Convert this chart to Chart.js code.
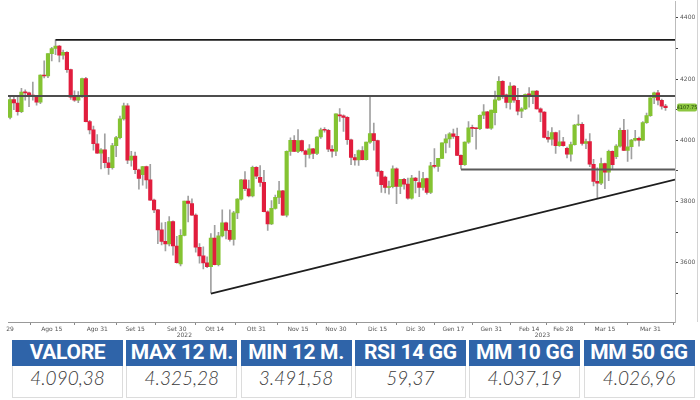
<!DOCTYPE html>
<html>
<head>
<meta charset="utf-8">
<script src="https://cdn.jsdelivr.net/npm/chart.js@4.4.1/dist/chart.umd.min.js"></script>
<style>
  body { margin: 0; width: 700px; height: 400px; overflow: hidden; background: #fff; position: relative; }
  #chart { position: absolute; left: 0; top: -4px; }
  #frame { position: absolute; left: 675px; top: 0; width: 22px; height: 322px; border-right: 1px solid #d4d4d4; }
  .head, .val { position: absolute; width: 111px; text-align: center; box-sizing: border-box; }
  .head { top: 340px; height: 26px; line-height: 26px; background: #2f64a9; color: #fff;
          font: 700 21px Roboto, sans-serif; letter-spacing: -0.3px; }
  .val { top: 366px; height: 32px; line-height: 31px; border: 1px solid #dcdcdc; border-top: none;
         color: #3a3a3a; font: italic 300 19px Lato, sans-serif; }
</style>
</head>
<body>
<canvas id="chart" width="700" height="342"></canvas>
<div id="frame"></div>
<div id="table"></div>
<script>
// daily candles, 29 Jul 2022 -> 6 Apr 2023 (futures prices)
const opens = [4075,4133,4122,4094,4158,4155,4148,4143,4125,4213,
  4210,4283,4300,4308,4278,4287,4231,4141,4131,4144,
  4202,4061,4034,3989,3958,3969,3927,3911,3983,4009,
  4070,4113,3935,3949,3904,3888,3914,3871,3805,3773,
  3708,3670,3662,3735,3655,3597,3690,3802,3794,3756,
  3651,3623,3600,3588,3681,3594,3688,3731,3706,3677,
  3763,3808,3871,3842,3819,3912,3879,3863,3767,3727,
  3778,3814,3835,3756,3964,4000,3964,3999,3966,3954,
  3972,3957,4011,4034,4033,3971,3965,4083,4080,4075,
  4002,3944,3936,3967,3937,3994,4022,3999,3899,3880,
  3846,3849,3907,3850,3873,3857,3811,3877,3862,3846,
  3875,3830,3917,3915,3941,3992,4005,4021,4013,3951,
  3921,3994,4041,4039,4038,4082,4093,4040,4090,4132,
  4193,4149,4124,4177,4131,4095,4103,4150,4149,4161,
  4103,4092,4010,4004,4025,3983,3995,3974,3955,3986,
  4050,4052,3990,3996,3922,3866,3860,3924,3896,3964,
  3947,3981,4033,3967,3979,4001,4007,4001,4058,4081,
  4139,4155,4131,4112];
const highs = [4143,4147,4143,4170,4165,4158,4190,4146,4214,4260,
  4283,4304,4328,4310,4295,4290,4233,4162,4159,4203,
  4206,4065,4047,4019,3973,4021,3945,3990,4013,4079,
  4122,4120,3964,3962,3906,3915,3916,3922,3808,3775,
  3731,3732,3751,3737,3687,3709,3802,3818,3809,3760,
  3663,3652,3620,3696,3723,3700,3773,3733,3773,3768,
  3810,3873,3898,3870,3916,3914,3918,3902,3770,3803,
  3821,3866,3837,3966,4008,4016,4035,4001,3968,3986,
  3974,4012,4040,4042,4036,3983,4087,4104,4083,4078,
  4004,3954,3969,3980,3994,4145,4056,4001,3901,3883,
  3867,3917,3910,3873,3876,3877,3886,3879,3900,3896,
  3877,3928,3973,3941,3992,4019,4025,4037,4040,3953,
  3995,4061,4050,4041,4083,4117,4095,4099,4161,4208,
  4195,4151,4189,4180,4170,4107,4152,4172,4161,4163,
  4106,4094,4030,4042,4027,4032,4010,3978,3994,4052,
  4083,4058,4004,4022,3938,3910,3942,3926,3968,3966,
  3986,4040,4069,4034,4003,4033,4011,4061,4089,4140,
  4158,4163,4135,4118];
const lows = [4070,4100,4082,4090,4131,4110,4131,4115,4120,4204,
  4205,4259,4280,4256,4265,4222,4134,4127,4123,4140,
  4060,4021,3968,3957,3907,3910,3889,3906,3947,4005,
  4066,3924,3916,3891,3841,3854,3843,3804,3764,3663,
  3659,3639,3655,3625,3599,3590,3688,3734,3755,3635,
  3599,3580,3584,3502,3593,3590,3685,3678,3671,3658,
  3744,3805,3836,3815,3815,3875,3850,3766,3706,3725,
  3775,3793,3755,3750,3951,3963,3960,3962,3913,3942,
  3940,3953,4006,4027,3963,3945,3950,4062,4029,3987,
  3921,3919,3918,3936,3935,3990,3968,3883,3830,3828,
  3824,3845,3793,3826,3841,3808,3808,3828,3816,3837,
  3824,3826,3910,3899,3940,3959,3977,4006,3950,3907,
  3918,3990,4012,3971,4035,4071,4039,4036,4050,4130,
  4137,4106,4102,4124,4083,4074,4100,4108,4120,4102,
  4061,4008,3994,3984,3957,3980,3981,3943,3932,3984,
  4048,3984,3973,3914,3851,3813,3855,3842,3868,3906,
  3940,3978,3966,3931,3939,3998,3981,3999,4055,4078,
  4120,4116,4102,4098];
const closes = [4133,4122,4094,4158,4155,4148,4143,4125,4213,4210,
  4283,4300,4308,4278,4287,4231,4141,4131,4144,4202,
  4061,4034,3989,3958,3969,3927,3911,3983,4009,4070,
  4113,3935,3949,3904,3876,3914,3871,3805,3773,3708,
  3670,3662,3735,3655,3601,3690,3802,3794,3756,3651,
  3623,3600,3588,3681,3594,3688,3731,3706,3677,3763,
  3808,3871,3842,3819,3912,3883,3863,3767,3727,3778,
  3814,3835,3756,3964,4000,3964,3999,3966,3954,3972,
  3957,4011,4034,4033,3971,3965,4087,4080,4075,4002,
  3944,3936,3967,3937,3994,4022,3999,3899,3855,3846,
  3849,3907,3850,3873,3857,3811,3877,3868,3846,3875,
  3830,3917,3915,3941,3992,4005,4021,4013,3951,3921,
  3994,4041,4039,4038,4082,4093,4040,4099,4132,4193,
  4149,4124,4177,4131,4095,4103,4150,4149,4161,4103,
  4092,4010,4004,4025,3983,3995,3983,3955,3986,4050,
  4052,3990,3996,3922,3866,3860,3924,3896,3964,3921,
  3981,4033,3967,3979,4001,4007,4001,4058,4081,4139,
  4155,4131,4112,4107];

// x axis: trading-day index of each date label
const xTickLabels = ['29','Ago 15','Ago 31','Set 15','Set 30','Ott 14','Ott 31','Nov 15','Nov 30',
  'Dic 15','Dic 30','Gen 17','Gen 31','Feb 14','Feb 28','Mar 15','Mar 31'];
const xTickIndex = [0,11,23,33,44,54,65,76,86,97,107,117,127,137,146,157,169];
const yearLabels = ['2022','2023'];
const yearIndex = [46,140.5];

const yTickValues = [3500,3600,3700,3800,3900,4000,4100,4200,4300,4400];
const yTickLabels = ['','3600','','3800','','4000','','4200','','4400'];

// drawn levels
const maxLevel = 4328, maxFrom = 12;
const midLevel = 4144.5;
const supportLevel = 3905, supportFrom = 119;
const trendFrom = {x: 53, y: 3500}, trendTo = {x: 175.5, y: 3872};
const lastTag = '4107.75';

const tableHeaders = ['VALORE','MAX 12 M.','MIN 12 M.','RSI 14 GG','MM 10 GG','MM 50 GG'];
const tableValues = ['4.090,38','4.325,28','3.491,58','59,37','4.037,19','4.026,96'];

const X_MIN = -0.55, X_MAX = 175.5;
const GREEN = '#84c332', RED = '#e11d3d';

const wicks = lows.map((l, i) => ({x: i, y: [l, highs[i]]}));
const bodies = opens.map((o, i) => ({x: i, y: [o, closes[i]]}));
const bodyColors = opens.map((o, i) => closes[i] >= o ? GREEN : RED);

const level = (from, to, v) => [{x: from, y: v}, {x: to, y: v}];

const extras = {
  id: 'extras',
  afterDraw(chart) {
    const ctx = chart.ctx, xs = chart.scales.x, ys = chart.scales.y, area = chart.chartArea;
    ctx.save();
    ctx.fillStyle = '#555';
    ctx.font = '6px "DejaVu Sans", sans-serif';
    ctx.textAlign = 'center';
    ctx.textBaseline = 'top';
    yearLabels.forEach((t, i) => ctx.fillText(t, xs.getPixelForValue(yearIndex[i]), area.bottom + 10));
    // last price tag
    const y = ys.getPixelForValue(closes[closes.length - 1]);
    ctx.fillStyle = '#8cc63f';
    ctx.beginPath();
    ctx.roundRect(area.right + 2, y - 4, 20, 8, 2);
    ctx.fill();
    ctx.fillStyle = '#20400a';
    ctx.textBaseline = 'middle';
    ctx.font = '5px "DejaVu Sans", sans-serif';
    ctx.fillText(lastTag, area.right + 12, y + 0.5);
    ctx.restore();
  }
};

new Chart(document.getElementById('chart'), {
  type: 'bar',
  data: {
    datasets: [
      {type: 'line', data: level(maxFrom, X_MAX, maxLevel), borderColor: '#1c1c1c', borderWidth: 1.6, pointRadius: 0, order: 0},
      {type: 'line', data: level(X_MIN, X_MAX, midLevel), borderColor: '#4d4d4d', borderWidth: 2, pointRadius: 0, order: 0},
      {type: 'line', data: level(supportFrom, X_MAX, supportLevel), borderColor: '#5a5a5a', borderWidth: 2, pointRadius: 0, order: 0},
      {type: 'line', data: [trendFrom, trendTo], borderColor: '#1e1e1e', borderWidth: 1.8, pointRadius: 0, order: 0},
      {data: bodies, backgroundColor: bodyColors, barThickness: 3.5, minBarLength: 1, grouped: false, order: 1},
      {data: wicks, backgroundColor: '#a0a0a0', barThickness: 1, grouped: false, order: 2}
    ]
  },
  options: {
    responsive: false,
    animation: false,
    devicePixelRatio: 1,
    layout: {padding: {left: 8, right: 3, top: 0, bottom: 0}},
    plugins: {legend: {display: false}, tooltip: {enabled: false}},
    scales: {
      x: {
        type: 'linear', min: X_MIN, max: X_MAX, offset: false,
        afterBuildTicks: s => { s.ticks = xTickIndex.map(v => ({value: v})); },
        afterFit: s => { s.height = 16; },
        ticks: {autoSkip: false, maxRotation: 0, padding: 1, color: '#555',
                font: {size: 6, family: 'DejaVu Sans'}, callback: (v, i) => xTickLabels[i]},
        grid: {drawOnChartArea: false, tickLength: 3, color: '#888'},
        border: {color: '#999'}
      },
      y: {
        position: 'right', min: 3407, max: 4453,
        afterBuildTicks: s => { s.ticks = yTickValues.map(v => ({value: v})); },
        afterFit: s => { s.width = 22; },
        ticks: {padding: 2, color: '#555', font: {size: 6, family: 'DejaVu Sans'},
                callback: (v, i) => yTickLabels[i]},
        grid: {drawOnChartArea: false, tickLength: 3, color: '#444'},
        border: {color: '#bbb'}
      }
    }
  },
  plugins: [extras]
});

const table = document.getElementById('table');
tableHeaders.forEach((h, i) => {
  const left = 12 + i * 114.3;
  table.insertAdjacentHTML('beforeend',
    `<div class="head" style="left:${left}px">${h}</div><div class="val" style="left:${left}px">${tableValues[i]}</div>`);
});
</script>
</body>
</html>
